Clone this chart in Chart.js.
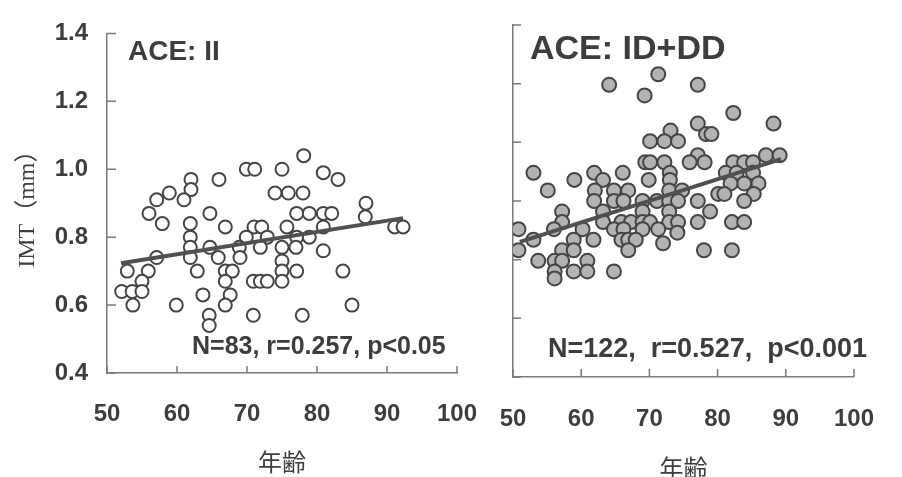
<!DOCTYPE html>
<html><head><meta charset="utf-8">
<script src="https://cdn.jsdelivr.net/npm/chart.js@4"></script>
<style>
html,body{margin:0;padding:0;background:#fff;overflow:hidden;width:902px;height:477px;position:relative;}
canvas{position:absolute;left:0;top:0;}
</style></head><body>
<canvas id="c1" width="902" height="477" style="width:902px;height:477px"></canvas>
<canvas id="c2" width="902" height="490" style="width:902px;height:490px"></canvas>
<script>
// ---- data ----
const xTickValues = [50, 60, 70, 80, 90, 100];
const yTickValues = [0.4, 0.6, 0.8, 1.0, 1.2, 1.4];

const leftAge = [78.1,69.9,71.1,75.0,80.9,83.0,62.0,66.0,58.9,62.0,57.1,61.0,74.0,75.9,78.0,87.0,
  56.0,64.7,77.1,78.9,80.9,82.1,86.9,57.9,61.9,66.9,71.0,72.1,75.7,80.9,91.1,92.3,
  61.9,69.9,72.9,77.1,78.9,57.1,61.9,64.7,68.9,71.9,75.0,77.0,80.9,61.9,65.9,69.0,75.0,
  52.9,55.9,62.9,66.9,67.9,75.0,77.1,83.7,55.0,66.9,70.9,71.9,72.9,75.0,
  52.1,53.6,55.0,63.7,67.6,53.7,59.9,66.9,85.0,64.6,70.9,77.9,64.6];
const leftIMT = [1.04,1.00,1.00,1.00,0.99,0.97,0.97,0.97,0.93,0.94,0.91,0.91,0.93,0.93,0.93,0.90,
  0.87,0.87,0.87,0.87,0.87,0.87,0.86,0.84,0.84,0.83,0.83,0.83,0.83,0.83,0.83,0.83,
  0.80,0.80,0.80,0.80,0.80,0.74,0.77,0.77,0.77,0.77,0.77,0.77,0.76,0.74,0.74,0.74,0.73,
  0.70,0.70,0.70,0.70,0.70,0.70,0.70,0.70,0.67,0.67,0.67,0.67,0.67,0.67,
  0.64,0.64,0.64,0.63,0.63,0.60,0.60,0.60,0.60,0.57,0.57,0.57,0.54];
const leftFitAge = [52.0, 92.3];
const leftFitIMT = [0.723, 0.856];

const rightAge = [71.3,64.1,69.3,77.1,82.3,88.2,77.1,78.3,79.1,73.1,
  70.1,72.2,74.2, 77.1,87.1,89.1,
  69.4,70.1,72.2,75.9,78.1,82.3,83.9,85.2,
  53.0,61.9,66.1,73.0,81.2,82.8,85.2,
  59.0,63.2,69.9,73.0,83.9,86.0,81.9,
  55.1,62.0,64.8,66.9,72.9,74.8,80.1,81.0,85.3,
  61.9,64.8,66.2,69.0,71.1,72.9,74.2,77.1,83.9,
  57.2,63.2,69.0,72.9,78.9,
  57.2,63.2,65.9,67.3,69.0,70.1,72.9,74.2,77.1,82.1,83.9,
  50.8,56.0,60.2,64.8,66.2,69.0,71.3,74.1,
  53.0,58.9,61.8,65.9,66.9,68.0,72.0,
  50.8,57.2,58.9,66.9,78.0,82.1,
  53.7,56.1,57.2,60.9,
  56.1,58.9,60.9,64.8,
  56.1];
const rightIMT = [1.26,1.23,1.20,1.23,1.15,1.12,1.12,1.09,1.09,1.10,
  1.07,1.07,1.07, 1.03,1.03,1.03,
  1.01,1.01,1.01,1.01,1.01,1.01,1.01,1.01,
  0.98,0.98,0.98,0.98,0.98,0.98,0.98,
  0.96,0.96,0.96,0.96,0.95,0.95,0.95,
  0.93,0.93,0.93,0.93,0.93,0.93,0.92,0.92,0.92,
  0.90,0.90,0.90,0.90,0.90,0.90,0.90,0.90,0.90,
  0.87,0.87,0.87,0.87,0.87,
  0.84,0.84,0.84,0.84,0.84,0.84,0.84,0.84,0.84,0.84,0.84,
  0.82,0.82,0.82,0.82,0.82,0.82,0.82,0.81,
  0.79,0.79,0.79,0.79,0.79,0.79,0.78,
  0.76,0.76,0.76,0.76,0.76,0.76,
  0.73,0.73,0.73,0.73,
  0.70,0.70,0.70,0.70,
  0.68];
const rightFitAge = [51.0, 89.3];
const rightFitIMT = [0.784, 1.019];

const leftTitle = 'ACE: II';
const rightTitle = 'ACE: ID+DD';
const leftStats = 'N=83, r=0.257, p<0.05';
const rightStats = 'N=122,  r=0.527,  p<0.001';
const xTitle = '年齢';
const yTitle = 'IMT（mm）';

// ---- helpers ----
const pts = (xs, ys) => xs.map((x, i) => ({x, y: ys[i]}));
const AXIS = '#7a7a7a';
const TXT = '#3d3d3d';

const decor = {
  id: 'decor',
  afterDraw(chart, args, o) {
    const {ctx, chartArea: a} = chart;
    const xs = chart.scales.x, ys = chart.scales.y;
    ctx.save();
    ctx.strokeStyle = AXIS; ctx.lineWidth = 1.5;
    ctx.beginPath();
    xs.ticks.forEach(t => { const p = xs.getPixelForValue(t.value); ctx.moveTo(p, a.bottom); ctx.lineTo(p, a.bottom - o.xLen); });
    ys.ticks.forEach(t => { const p = ys.getPixelForValue(t.value); ctx.moveTo(a.left, p); ctx.lineTo(a.left + o.yLen, p); });
    ctx.stroke();
    o.texts.forEach(t => {
      ctx.font = t.font; ctx.fillStyle = TXT; ctx.textAlign = 'left'; ctx.textBaseline = 'middle';
      ctx.fillText(t.text, t.x, t.y);
    });
    ctx.restore();
  }
};

function makeChart(id, cfg) {
  return new Chart(document.getElementById(id), {
    type: 'scatter',
    data: {
      datasets: [
        { type: 'line', data: pts(cfg.fitX, cfg.fitY), borderColor: '#505050', borderWidth: 4,
          pointRadius: 0, fill: false, order: 0, borderCapStyle: 'butt' },
        { data: pts(cfg.xs, cfg.ys), pointRadius: cfg.r, pointHoverRadius: cfg.r,
          backgroundColor: cfg.fill, borderColor: '#454545', borderWidth: 2, order: 1 }
      ]
    },
    options: {
      responsive: false, animation: false, devicePixelRatio: 1,
      layout: { padding: cfg.pad },
      plugins: { legend: { display: false }, tooltip: { enabled: false }, decor: cfg.decor },
      scales: {
        x: {
          type: 'linear', min: 50, max: 100,
          afterBuildTicks: s => { s.ticks = xTickValues.map(v => ({value: v})); },
          afterFit: s => { s.height = cfg.xH; },
          grid: { display: false, drawTicks: false },
          border: { display: true, color: AXIS, width: 1.5 },
          ticks: { padding: cfg.xPad, color: TXT, font: { family: 'Liberation Sans', size: 24, weight: 'bold' },
                   autoSkip: false, maxRotation: 0 },
          title: { display: true, text: xTitle, color: TXT, padding: { top: 0, bottom: cfg.xTitlePad },
                   font: { family: "'Noto Sans CJK JP'", size: 24 } }
        },
        y: {
          type: 'linear', min: 0.4, max: 1.4,
          afterBuildTicks: cfg.yTicks,
          afterFit: s => { s.width = cfg.yW; },
          grid: { display: false, drawTicks: false },
          border: { display: true, color: AXIS, width: 1.5 },
          ticks: { display: cfg.yLabels, padding: 19, color: TXT,
                   font: { family: 'Liberation Sans', size: 24, weight: 'bold' },
                   callback: v => Number(v).toFixed(1) },
          title: { display: cfg.yLabels, text: yTitle, color: TXT, padding: { top: 13.6, bottom: 0 },
                   font: { family: "'Liberation Serif','Noto Sans CJK JP'", size: 24 } }
        }
      }
    },
    plugins: [decor]
  });
}

makeChart('c1', {
  xs: leftAge, ys: leftIMT, fitX: leftFitAge, fitY: leftFitIMT, r: 6.5, fill: '#ffffff',
  pad: { left: 0, right: 445, top: 20, bottom: 0 }, xH: 104, yW: 107, xPad: 27, xTitlePad: 1,
  yLabels: true,
  yTicks: s => { s.ticks = yTickValues.map(v => ({value: v})); },
  decor: { xLen: 7, yLen: 9, texts: [
    { text: leftTitle, x: 128, y: 52, font: "bold 28px 'Liberation Sans'" },
    { text: leftStats, x: 192, y: 347, font: "bold 25px 'Liberation Sans'" }
  ] }
});

makeChart('c2', {
  xs: rightAge, ys: rightIMT, fitX: rightFitAge, fitY: rightFitIMT, r: 7, fill: '#b3b3b3',
  pad: { left: 0, right: 28, top: 25, bottom: 0 }, xH: 113, yW: 513, xPad: 28, xTitlePad: 7.6,
  yLabels: false,
  yTicks: s => { s.ticks = [0,1,2,3,4,5,6].map(k => ({value: 0.4 + k / 6})); },
  decor: { xLen: 8, yLen: 8, texts: [
    { text: rightTitle, x: 530, y: 50, font: "bold 34px 'Liberation Sans'" },
    { text: rightStats, x: 548, y: 350, font: "bold 27px 'Liberation Sans'" }
  ] }
});
</script>
</body></html>
